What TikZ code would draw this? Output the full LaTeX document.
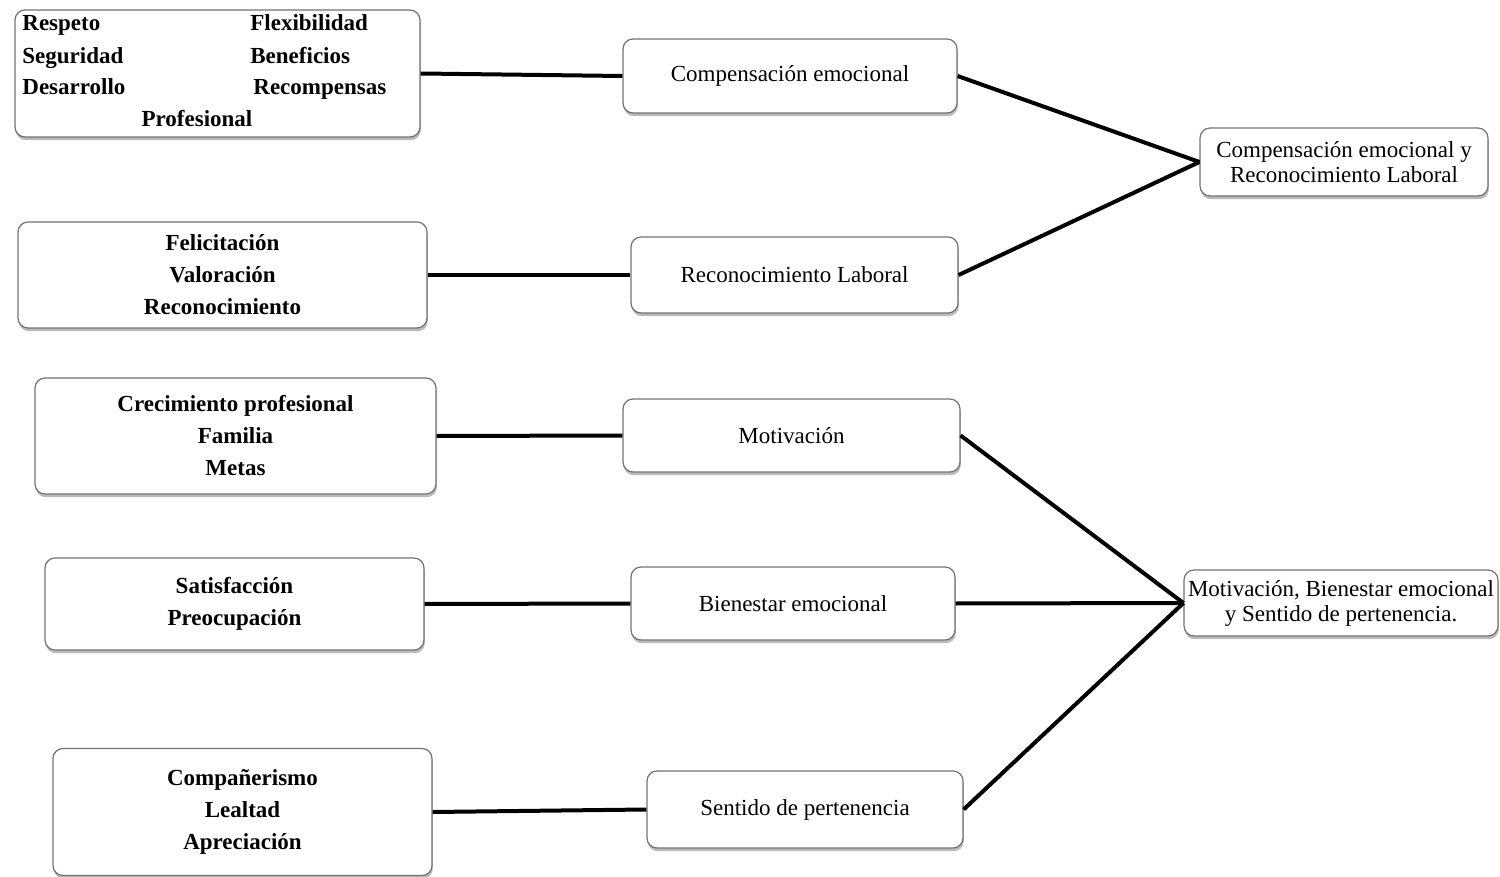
\documentclass[tikz,border=0pt]{standalone}
\usepackage{fontspec}
\setmainfont{Liberation Serif}
\usetikzlibrary{shadows}
\tikzset{
  box/.style={draw=black!55, line width=0.6pt, rounded corners=5pt, fill=white,
    drop shadow={shadow xshift=0.4pt, shadow yshift=-1.6pt, fill=black!45, opacity=0.6},
    inner sep=2pt, align=center, font=\fontsize{11.5}{16}\selectfont},
  bold/.style={font=\fontsize{11.5}{16}\selectfont\bfseries, inner sep=0pt},
  link/.style={line width=2pt, black}
}
\begin{document}
\begin{tikzpicture}[x=0.5pt,y=-0.5pt]
\useasboundingbox (0,0) rectangle (1500,877);
% left boxes
\node[box, minimum width=202.5pt, minimum height=63.5pt] (l1) at (217.5,73.5) {};
\node[bold, anchor=base west] (t1a) at (22,31) {Respeto};
\node[bold, anchor=base west] (t1b) at (250,31) {Flexibilidad};
\node[bold, anchor=base west] (t1c) at (22,64) {Seguridad};
\node[bold, anchor=base west] (t1d) at (250,64) {Beneficios};
\node[bold, anchor=base west] (t1e) at (22,95) {Desarrollo};
\node[bold, anchor=base west] (t1f) at (253,95) {Recompensas};
\node[bold, anchor=base] (t1g) at (197,127) {Profesional};

\node[box, minimum width=204.5pt, minimum height=53pt, font=\fontsize{11.5}{16}\selectfont\bfseries] (l2) at (222.5,275) {Felicitación\\Valoración\\Reconocimiento};
\node[box, minimum width=200.5pt, minimum height=58pt, font=\fontsize{11.5}{16}\selectfont\bfseries] (l3) at (235.5,436) {Crecimiento profesional\\Familia\\Metas};
\node[box, minimum width=189.5pt, minimum height=46pt, font=\fontsize{11.5}{16}\selectfont\bfseries] (l4) at (234.5,604) {Satisfacción\\Preocupación};
\node[box, minimum width=189.5pt, minimum height=63.5pt, font=\fontsize{11.5}{16}\selectfont\bfseries] (l5) at (242.5,812) {Compañerismo\\Lealtad\\Apreciación};
% middle boxes
\node[box, minimum width=167pt, minimum height=37pt] (m1) at (790,76) {Compensación emocional};
\node[box, minimum width=163.5pt, minimum height=38pt] (m2) at (794.5,275) {Reconocimiento Laboral};
\node[box, minimum width=168.5pt, minimum height=36.5pt] (m3) at (791.5,435.5) {Motivación};
\node[box, minimum width=162pt, minimum height=36.5pt] (m4) at (793,603.5) {Bienestar emocional};
\node[box, minimum width=158pt, minimum height=38.5pt] (m5) at (805,809.5) {Sentido de pertenencia};
% right boxes
\node[box, minimum width=144pt, minimum height=34pt, font=\fontsize{11.5}{12.5}\selectfont] (r1) at (1344,162) {Compensación emocional y\\Reconocimiento Laboral};
\node[box, minimum width=156pt, minimum height=33pt, font=\fontsize{11.5}{12.5}\selectfont] (r2) at (1341,603) {Motivación, Bienestar emocional\\y Sentido de pertenencia.};
% connectors
\draw[link] (l1.east) -- (m1.west);
\draw[link] (l2.east) -- (m2.west);
\draw[link] (l3.east) -- (m3.west);
\draw[link] (l4.east) -- (m4.west);
\draw[link] (l5.east) -- (m5.west);
\draw[link] (m1.east) -- (r1.west);
\draw[link] (m2.east) -- (r1.west);
\draw[link] (m3.east) -- (r2.west);
\draw[link] (m4.east) -- (r2.west);
\draw[link] (m5.east) -- (r2.west);
\end{tikzpicture}
\end{document}
